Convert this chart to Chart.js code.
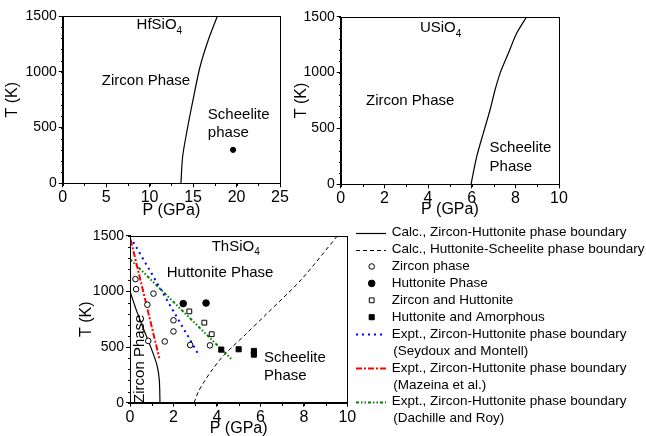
<!DOCTYPE html>
<html>
<head>
<meta charset="utf-8">
<script src="https://cdn.jsdelivr.net/npm/chart.js@4.4.0/dist/chart.umd.min.js"></script>
<style>
html, body { margin: 0; padding: 0; background: #fff; }
#wrap { position: relative; width: 646px; height: 436px; overflow: hidden; }
#wrap canvas { position: absolute; }
</style>
</head>
<body>
<div id="wrap">
    <canvas id="cHf" width="290" height="222" style="left:0;top:0"></canvas>
    <canvas id="cU" width="280" height="222" style="left:290px;top:0"></canvas>
    <canvas id="cTh" width="586" height="216" style="left:60px;top:220px"></canvas>
</div>
<script>
// HfSiO4 panel
var hfBoundaryP = [13.6, 13.8, 14.25, 15.0, 15.8, 16.75, 17.8];
var hfBoundaryT = [0, 240, 450, 750, 1045, 1285, 1500];
var hfScheeliteP = [19.6];
var hfScheeliteT = [300];

// USiO4 panel
var uBoundaryP = [5.97, 6.23, 6.53, 6.84, 7.07, 7.3, 7.68, 8.06, 8.52];
var uBoundaryT = [0, 247, 456, 665, 844, 993, 1172, 1351, 1500];

// ThSiO4 panel - calculated boundaries
var thZircHuttP = [0, 0.35, 0.75, 1.05, 1.25, 1.35, 1.38];
var thZircHuttT = [1000, 800, 600, 450, 330, 200, 0];
var thHuttSchP = [2.95, 3.15, 3.45, 3.8, 4.2, 4.7, 5.3, 6.3, 7.9, 9.55];
var thHuttSchT = [0, 100, 200, 300, 400, 500, 610, 800, 1110, 1500];

// ThSiO4 panel - experiments
var zirconP = [0.25, 0.28, 1.08, 0.8, 0.84, 1.6, 2.0, 2.0, 2.77, 3.68];
var zirconT = [1110, 1020, 980, 880, 555, 550, 740, 640, 518, 515];
var huttoniteP = [2.45, 3.5];
var huttoniteT = [890, 895];
var zircHuttP = [2.73, 3.42, 3.76];
var zircHuttT = [820, 719, 615];
var huttAmorphP = [4.2, 5.0, 5.7, 5.7];
var huttAmorphT = [477, 480, 465, 432];
var seydouxP = [0.15, 3.2];
var seydouxT = [1444, 418];
var mazeinaP = [0.03, 1.35];
var mazeinaT = [1465, 400];
var dachilleP = [0, 4.65];
var dachilleT = [1290, 395];

var FONT = '"Liberation Sans", Arial, Helvetica, sans-serif';
Chart.defaults.font.family = FONT;
Chart.defaults.color = '#000';

function toPoints(ps, ts) {
    return ps.map(function (p, i) { return { x: p, y: ts[i] }; });
}

function lineSet(label, ps, ts, color, width, dash, tension) {
    return {
        label: label,
        data: toPoints(ps, ts),
        showLine: true,
        borderColor: color,
        borderWidth: width,
        borderDash: dash || [],
        pointRadius: 0,
        tension: tension || 0,
        order: 2
    };
}

function markSet(label, ps, ts, style, radius, filled) {
    return {
        label: label,
        data: toPoints(ps, ts),
        showLine: false,
        pointStyle: style,
        pointRadius: radius,
        pointBorderWidth: 1,
        pointBorderColor: '#000',
        pointBackgroundColor: filled ? '#000' : '#fff',
        order: 1
    };
}

// frame on all four sides plus the short minor ticks
function framePlugin(xMinor, yMinor) {
    return {
        id: 'frame',
        afterDraw: function (chart) {
            var ctx = chart.ctx, a = chart.chartArea;
            var xs = chart.scales.x, ys = chart.scales.y;
            var l = Math.round(a.left) + 0.5, r = Math.round(a.right) + 0.5;
            var t = Math.round(a.top) + 0.5, b = Math.round(a.bottom) + 0.5;
            ctx.save();
            ctx.strokeStyle = '#000';
            ctx.lineWidth = 1;
            ctx.setLineDash([]);
            ctx.strokeRect(l, t, r - l, b - t);
            ctx.beginPath();
            var v, px;
            for (v = xs.min; v <= xs.max + 1e-9; v += xMinor) {
                px = Math.round(xs.getPixelForValue(v)) + 0.5;
                ctx.moveTo(px, b);
                ctx.lineTo(px, b + 2.5);
            }
            for (v = ys.min; v <= ys.max + 1e-9; v += yMinor) {
                px = Math.round(ys.getPixelForValue(v)) + 0.5;
                ctx.moveTo(l, px);
                ctx.lineTo(l - 2.5, px);
            }
            ctx.stroke();
            ctx.restore();
        }
    };
}

// text placed at data coordinates
function notesPlugin(items) {
    return {
        id: 'notes',
        afterDatasetsDraw: function (chart) {
            var ctx = chart.ctx, xs = chart.scales.x, ys = chart.scales.y;
            ctx.save();
            ctx.fillStyle = '#000';
            ctx.textBaseline = 'middle';
            items.forEach(function (n) {
                var x = xs.getPixelForValue(n.p), y = ys.getPixelForValue(n.t);
                ctx.save();
                ctx.translate(x, y);
                if (n.rot) ctx.rotate(n.rot * Math.PI / 180);
                ctx.font = (n.size || 15) + 'px ' + FONT;
                ctx.textAlign = n.align || 'left';
                ctx.fillText(n.text, 0, 0);
                if (n.sub) {
                    var w = ctx.measureText(n.text).width;
                    ctx.font = '10px ' + FONT;
                    ctx.fillText(n.sub, w, 6);
                }
                ctx.restore();
            });
            ctx.restore();
        }
    };
}

function plainTick(value) {
    return String(value);
}

function makePanel(id, cfg) {
    var el = document.getElementById(id);
    var plugins = [framePlugin(cfg.xMinor, 100), notesPlugin(cfg.notes)];
    if (cfg.extra) plugins.push(cfg.extra);
    return new Chart(el, {
        type: 'scatter',
        data: { datasets: cfg.datasets },
        options: {
            responsive: false,
            animation: false,
            layout: { padding: { top: cfg.padTop, right: cfg.padRight, left: 0, bottom: 0 } },
            plugins: { legend: { display: false }, tooltip: { enabled: false } },
            scales: {
                x: {
                    type: 'linear',
                    min: cfg.xMin, max: cfg.xMax,
                    afterFit: function (s) { s.height = cfg.xHeight; },
                    ticks: {
                        stepSize: cfg.xStep, autoSkip: false, maxRotation: 0,
                        padding: 1, font: { size: 16 }, color: '#000', callback: plainTick
                    },
                    grid: { drawOnChartArea: false, drawTicks: true, tickLength: 4, tickColor: '#000' },
                    border: { display: true, color: '#000', width: 1 },
                    title: { display: true, text: 'P (GPa)', font: { size: 16 }, color: '#000',
                             padding: { top: 0, bottom: cfg.xTitlePad } }
                },
                y: {
                    type: 'linear',
                    min: 0, max: 1500,
                    afterFit: function (s) { s.width = cfg.yWidth; },
                    ticks: { stepSize: 500, padding: 2, font: { size: 14 }, color: '#000', callback: plainTick },
                    grid: { drawOnChartArea: false, drawTicks: true, tickLength: 4, tickColor: '#000' },
                    border: { display: true, color: '#000', width: 1 },
                    title: { display: true, text: 'T (K)', font: { size: 16 }, color: '#000',
                             padding: { top: cfg.yTitlePad, bottom: 0 } }
                }
            }
        },
        plugins: plugins
    });
}

makePanel('cHf', {
    xMin: 0, xMax: 25, xStep: 5, xMinor: 2.5,
    padTop: 16, padRight: 10, yWidth: 62.7, xHeight: 38.7,
    yTitlePad: 3.2, xTitlePad: 1.4,
    datasets: [
        lineSet('Boundary', hfBoundaryP, hfBoundaryT, '#000', 1.2, null, 0.3),
        markSet('Scheelite', hfScheeliteP, hfScheeliteT, 'circle', 2.6, true)
    ],
    notes: [
        { text: 'HfSiO', sub: '4', p: 8.5, t: 1420 },
        { text: 'Zircon Phase', p: 4.5, t: 917 },
        { text: 'Scheelite', p: 16.7, t: 612 },
        { text: 'phase', p: 16.7, t: 449 }
    ]
});

makePanel('cU', {
    xMin: 0, xMax: 10, xStep: 2, xMinor: 1,
    padTop: 16.7, padRight: 11, yWidth: 50.7, xHeight: 37.7,
    yTitlePad: 2.1, xTitlePad: 3.2,
    datasets: [
        lineSet('Boundary', uBoundaryP, uBoundaryT, '#000', 1.2, null, 0.3)
    ],
    notes: [
        { text: 'USiO', sub: '4', p: 3.63, t: 1400 },
        { text: 'Zircon Phase', p: 1.16, t: 746 },
        { text: 'Scheelite', p: 6.82, t: 324 },
        { text: 'Phase', p: 6.82, t: 154 }
    ]
});

var thSets = [
    lineSet('Calc., Zircon-Huttonite phase boundary', thZircHuttP, thZircHuttT, '#000', 1.2, null, 0.3),
    lineSet('Calc., Huttonite-Scheelite phase boundary', thHuttSchP, thHuttSchT, '#000', 1, [4, 3], 0.3),
    markSet('Zircon phase', zirconP, zirconT, 'circle', 2.8, false),
    markSet('Huttonite Phase', huttoniteP, huttoniteT, 'circle', 3.3, true),
    markSet('Zircon and Huttonite', zircHuttP, zircHuttT, 'rect', 3.4, false),
    markSet('Huttonite and Amorphous', huttAmorphP, huttAmorphT, 'rect', 3.6, true),
    lineSet('Expt., Zircon-Huttonite phase boundary', seydouxP, seydouxT, '#0000ff', 2, [2, 4]),
    lineSet('Expt., Zircon-Huttonite phase boundary', mazeinaP, mazeinaT, '#ff0000', 2, [6, 2, 2, 2]),
    lineSet('Expt., Zircon-Huttonite phase boundary', dachilleP, dachilleT, '#008000', 2, [3, 2, 1.5, 2, 1.5, 2])
];
var thNotes = ['', '', '', '', '', '', '(Seydoux and Montell)', '(Mazeina et al.)', '(Dachille and Roy)'];

var legendPlugin = {
    id: 'sideLegend',
    afterDraw: function (chart) {
        var ctx = chart.ctx;
        var x0 = 296, x1 = 326, xm = 311.7, xt = 331.7;
        var row = 0;
        ctx.save();
        ctx.font = '13.5px ' + FONT;
        ctx.textBaseline = 'middle';
        ctx.textAlign = 'left';
        chart.data.datasets.forEach(function (ds, i) {
            var y = 12.7 + row * 16.9;
            ctx.save();
            if (ds.showLine) {
                ctx.strokeStyle = ds.borderColor;
                ctx.lineWidth = ds.borderWidth;
                ctx.setLineDash(ds.borderDash || []);
                ctx.beginPath();
                ctx.moveTo(x0, Math.round(y) + 0.5);
                ctx.lineTo(x1, Math.round(y) + 0.5);
                ctx.stroke();
            } else {
                ctx.fillStyle = ds.pointBackgroundColor;
                ctx.strokeStyle = ds.pointBorderColor;
                ctx.lineWidth = ds.pointBorderWidth;
                Chart.helpers.drawPoint(ctx, {
                    pointStyle: ds.pointStyle, radius: ds.pointRadius,
                    borderWidth: ds.pointBorderWidth, rotation: 0
                }, xm, y);
            }
            ctx.restore();
            ctx.fillStyle = '#000';
            ctx.fillText(ds.label, xt, y);
            row++;
            if (thNotes[i]) {
                ctx.fillText(thNotes[i], xt + 1.5, 12.7 + row * 16.9);
                row++;
            }
        });
        ctx.restore();
    }
};

makePanel('cTh', {
    xMin: 0, xMax: 10, xStep: 2, xMinor: 1,
    padTop: 15.7, padRight: 298.7, yWidth: 70, xHeight: 33.3,
    yTitlePad: 16.9, xTitlePad: -2.3,
    datasets: thSets,
    extra: legendPlugin,
    notes: [
        { text: 'ThSiO', sub: '4', p: 3.76, t: 1402 },
        { text: 'Huttonite Phase', p: 1.69, t: 1168 },
        { text: 'Scheelite', p: 6.17, t: 402 },
        { text: 'Phase', p: 6.17, t: 240 },
        { text: 'Zircon Phase', p: 0.44, t: 395, rot: -90, align: 'center' }
    ]
});
</script>
</body>
</html>
